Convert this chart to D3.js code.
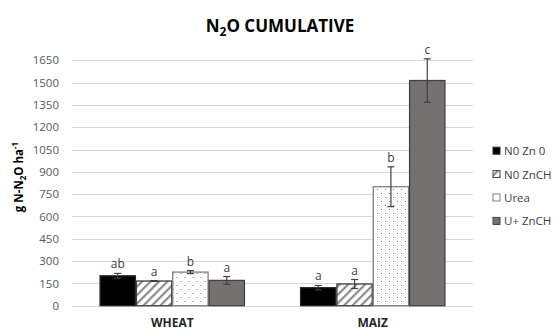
<!DOCTYPE html>
<html><head><meta charset="utf-8">
<script src="https://cdn.jsdelivr.net/npm/d3@7"></script>
<style>body{margin:0;background:#fff}svg{display:block}</style>
</head><body>
<svg id="c" width="556" height="330"></svg>
<script>
const categories = ["WHEAT", "MAIZ"];
const seriesNames = ["N0 Zn 0", "N0 ZnCH", "Urea", "U+ ZnCH"];
const values = {
  "WHEAT": [201, 166, 226, 170],
  "MAIZ": [121, 146, 800, 1514]
};
const errors = {
  "WHEAT": [16, 3, 10, 26],
  "MAIZ": [15, 30, 134, 146]
};
const letters = {
  "WHEAT": ["ab", "a", "b", "a"],
  "MAIZ": ["a", "a", "b", "c"]
};
const yTicks = [0,150,300,450,600,750,900,1050,1200,1350,1500,1650];

const svg = d3.select("#c");
const defs = svg.append("defs");
const hatch = defs.append("pattern").attr("id","hatch").attr("patternUnits","userSpaceOnUse")
  .attr("width",6).attr("height",6).attr("patternTransform","rotate(45)");
hatch.append("rect").attr("width",6).attr("height",6).attr("fill","#fff");
hatch.append("rect").attr("x",0).attr("width",2.2).attr("height",6).attr("fill","#8c8c8c");
const dots = defs.append("pattern").attr("id","dots").attr("patternUnits","userSpaceOnUse")
  .attr("width",8).attr("height",8);
dots.append("rect").attr("width",8).attr("height",8).attr("fill","#fff");
dots.append("rect").attr("x",1).attr("y",1).attr("width",1).attr("height",1).attr("fill","#777");
dots.append("rect").attr("x",5).attr("y",5).attr("width",1).attr("height",1).attr("fill","#777");

const fills = ["#000000","url(#hatch)","url(#dots)","#767171"];
const strokes = ["#262626","#404040","#7f7f7f","#404040"];

const mLeft = 72, mRight = 473, mTop = 60.3, mBottom = 305.7;
const x0 = d3.scaleBand().domain(categories).range([mLeft,mRight]).paddingInner(0.275).paddingOuter(0.1375);
const x1 = d3.scaleBand().domain(seriesNames).range([0,x0.bandwidth()]);
const y = d3.scaleLinear().domain([0,1650]).range([mBottom,mTop]);

// grid
svg.append("g").selectAll("line").data(yTicks).join("line")
  .attr("x1",mLeft).attr("x2",mRight).attr("y1",d=>Math.round(y(d))+0.5).attr("y2",d=>Math.round(y(d))+0.5)
  .attr("stroke","#d9d9d9").attr("stroke-width",1);

// y axis labels
const yAxis = d3.axisLeft(y).tickValues(yTicks).tickFormat(d3.format("d")).tickSize(0).tickPadding(13);
const ya = svg.append("g").attr("transform",`translate(${mLeft},0)`).call(yAxis);
ya.select(".domain").remove();
ya.selectAll("text").attr("font-family","Open Sans, sans-serif").attr("font-size",11.5).attr("fill","#595959");

// bars
const groups = svg.append("g").selectAll("g").data(categories).join("g")
  .attr("transform",d=>`translate(${x0(d)},0)`);
groups.selectAll("rect").data(c=>seriesNames.map((s,i)=>({c,s,i,v:values[c][i]}))).join("rect")
  .attr("x",d=>x1(d.s)+0.5).attr("width",x1.bandwidth()-1)
  .attr("y",d=>y(d.v)).attr("height",d=>y(0)-y(d.v))
  .attr("fill",d=>fills[d.i]).attr("stroke",d=>strokes[d.i]).attr("stroke-width",1.3);

// error bars
groups.each(function(c){
  const g = d3.select(this);
  seriesNames.forEach((s,i)=>{
    const cx = x1(s)+x1.bandwidth()/2;
    const v = values[c][i], e = errors[c][i];
    const eb = g.append("g").attr("stroke","#404040").attr("stroke-width",1.2);
    eb.append("line").attr("x1",cx).attr("x2",cx).attr("y1",y(v+e)).attr("y2",y(v-e));
    eb.append("line").attr("x1",cx-3.5).attr("x2",cx+3.5).attr("y1",y(v+e)).attr("y2",y(v+e));
    eb.append("line").attr("x1",cx-3.5).attr("x2",cx+3.5).attr("y1",y(v-e)).attr("y2",y(v-e));
    g.append("text").attr("x",cx).attr("y",y(v+e)-5).attr("text-anchor","middle")
      .attr("font-family","Open Sans, sans-serif").attr("font-size",12).attr("fill","#404040")
      .text(letters[c][i]);
  });
});

// x labels
svg.append("g").selectAll("text").data(categories).join("text")
  .attr("x",d=>x0(d)+x0.bandwidth()/2).attr("y",327)
  .attr("text-anchor","middle").attr("font-family","Open Sans, sans-serif").attr("font-weight","bold")
  .attr("font-size",12).attr("fill","#262626").text(d=>d);

// title
const t = svg.append("text").attr("x",280).attr("y",32).attr("text-anchor","middle")
  .attr("font-family","Open Sans, sans-serif").attr("font-weight","bold").attr("font-size",17).attr("fill","#000");
t.append("tspan").text("N");
t.append("tspan").attr("font-size",12).attr("dy",4).text("2");
t.append("tspan").attr("dy",-4).text("O CUMULATIVE");

// y title
const yt = svg.append("text").attr("transform","translate(23,177) rotate(-90)").attr("text-anchor","middle")
  .attr("font-family","Open Sans, sans-serif").attr("font-weight","bold").attr("font-size",11.5).attr("fill","#000");
yt.append("tspan").text("g N-N");
yt.append("tspan").attr("font-size",8).attr("dy",3).text("2");
yt.append("tspan").attr("dy",-3).text("O ha");
yt.append("tspan").attr("font-size",8).attr("dy",-5).text("-1");

// legend
const lg = svg.append("g").selectAll("g").data(seriesNames).join("g")
  .attr("transform",(d,i)=>`translate(493,${150.7+i*23.4})`);
lg.append("rect").attr("x",0).attr("y",-3.5).attr("width",7).attr("height",7)
  .attr("fill",(d,i)=>i===2?"#fff":fills[i]).attr("stroke",(d,i)=>strokes[i]).attr("stroke-width",1);
lg.append("text").attr("x",11).attr("y",4.5).attr("font-family","Open Sans, sans-serif").attr("font-size",11.5)
  .attr("fill","#404040").text(d=>d);
</script>
</body></html>
